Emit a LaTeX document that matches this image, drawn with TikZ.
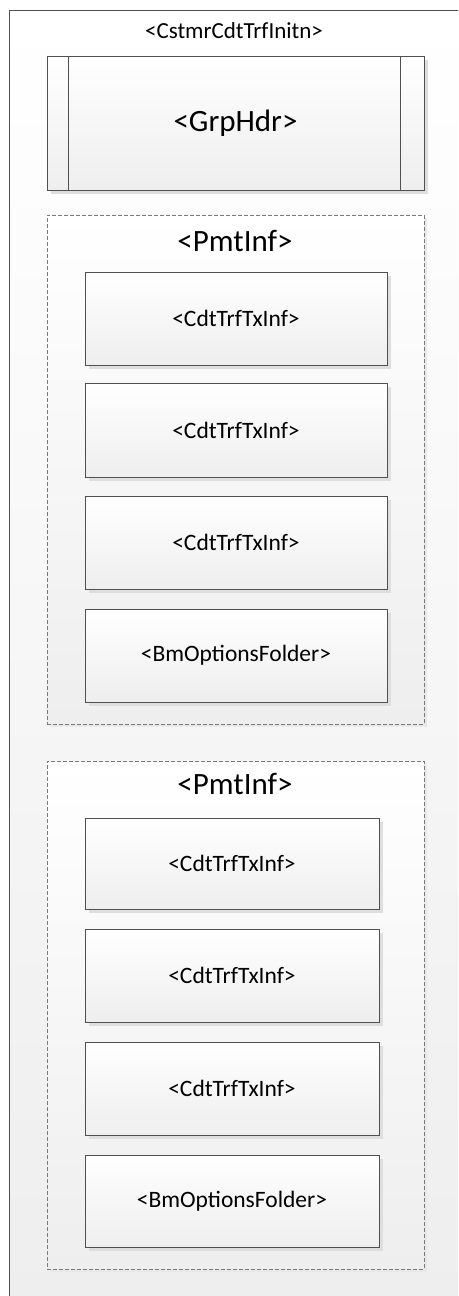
\documentclass[tikz,border=0pt]{standalone}
\usepackage{fontspec}
\setmainfont{Carlito}
\usetikzlibrary{shadows}
\definecolor{edge}{HTML}{505050}
\definecolor{dash}{HTML}{7A7A7A}
\definecolor{shade}{HTML}{EEEEEE}
\definecolor{shadowc}{HTML}{DEDEDE}
\tikzset{
  elem/.style={draw=edge, line width=0.9pt, rectangle, top color=white, bottom color=shade,
    drop shadow={shadow xshift=4pt, shadow yshift=-4pt, fill=shadowc, opacity=1},
    font=\fontsize{23.5}{26}\selectfont, inner sep=0pt},
  group/.style={draw=dash, line width=0.8pt, dash pattern=on 4pt off 2pt, rectangle,
    top color=white, bottom color=shade,
    drop shadow={shadow xshift=3pt, shadow yshift=-3pt, fill=shadowc!70, opacity=1}},
  bigtitle/.style={font=\fontsize{31}{34}\selectfont, inner sep=0pt},
}
\begin{document}
\begin{tikzpicture}[x=1pt,y=-1pt]
\useasboundingbox (0,0) rectangle (458,1296);
\clip (0,0) rectangle (458,1296);
% outer container
\path[top color=white, bottom color=shade] (9,10) rectangle (470,1310);
\draw[edge, line width=0.9pt] (9,1310) -- (9,10) -- (470,10);
\node[font=\fontsize{23}{26}\selectfont, inner sep=0pt] (outer) at (234,31) {<CstmrCdtTrfInitn>};

% GrpHdr
\node[elem, minimum width=377pt, minimum height=134pt, font=\fontsize{31}{34}\selectfont] (grphdr) at (235.5,123) {<GrpHdr>};
\draw[edge, line width=0.9pt] ([xshift=22pt]grphdr.north west) -- ([xshift=22pt]grphdr.south west);
\draw[edge, line width=0.9pt] ([xshift=-24pt]grphdr.north east) -- ([xshift=-24pt]grphdr.south east);

% PmtInf 1
\node[group, minimum width=377pt, minimum height=509pt] (p1) at (235.5,469.5) {};
\node[bigtitle] (p1t) at (235,241) {<PmtInf>};
\node[elem, minimum width=302pt, minimum height=93pt] (a1) at (236,318.5) {<CdtTrfTxInf>};
\node[elem, minimum width=302pt, minimum height=94pt] (a2) at (236,430) {<CdtTrfTxInf>};
\node[elem, minimum width=302pt, minimum height=93pt] (a3) at (236,542.5) {<CdtTrfTxInf>};
\node[elem, minimum width=302pt, minimum height=93pt] (a4) at (236,655.5) {<BmOptionsFolder>};

% PmtInf 2
\node[group, minimum width=377pt, minimum height=508pt] (p2) at (235.5,1015) {};
\node[bigtitle] (p2t) at (235,784) {<PmtInf>};
\node[elem, minimum width=294pt, minimum height=91pt] (b1) at (232,863.5) {<CdtTrfTxInf>};
\node[elem, minimum width=294pt, minimum height=93pt] (b2) at (232,975.5) {<CdtTrfTxInf>};
\node[elem, minimum width=294pt, minimum height=93pt] (b3) at (232,1088.5) {<CdtTrfTxInf>};
\node[elem, minimum width=294pt, minimum height=92pt] (b4) at (232,1201) {<BmOptionsFolder>};
\end{tikzpicture}
\end{document}
